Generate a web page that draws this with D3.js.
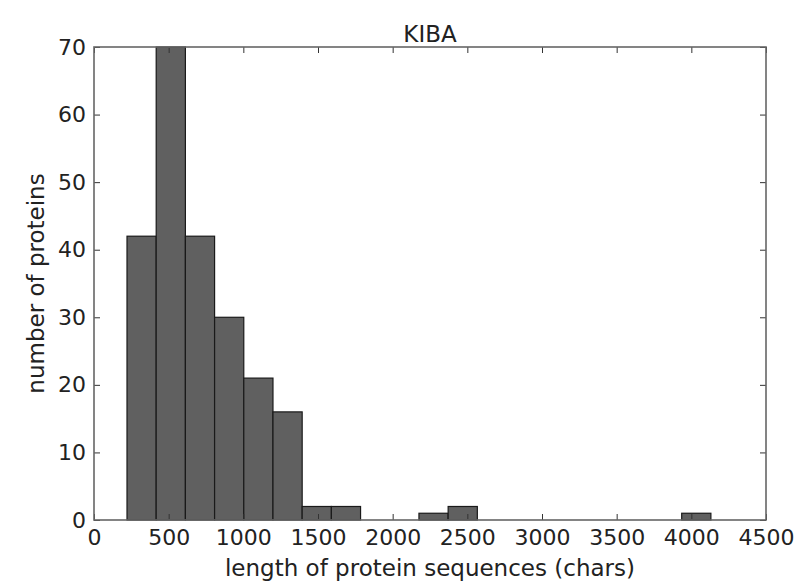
<!DOCTYPE html>
<html>
<head>
<meta charset="utf-8">
<script src="https://cdn.jsdelivr.net/npm/d3@7"></script>
<style>
  body { margin: 0; background: #fff; }
  text { font-family: "DejaVu Sans", sans-serif; fill: #222; }
</style>
</head>
<body>
<div class="chart"></div>
<script>
// histogram bins (edges) and counts
var binEdges = [221, 416.5, 612, 807.5, 1003, 1198.5, 1394, 1589.5, 1785, 1980.5, 2176,
                2371.5, 2567, 2762.5, 2958, 3153.5, 3349, 3544.5, 3740, 3935.5, 4131];
var counts = [42, 70, 42, 30, 21, 16, 2, 2, 0, 0, 1, 2, 0, 0, 0, 0, 0, 0, 0, 1];
var xTicks = [0, 500, 1000, 1500, 2000, 2500, 3000, 3500, 4000, 4500];
var yTicks = [0, 10, 20, 30, 40, 50, 60, 70];

var width = 803, height = 583;
var margin = {top: 47, right: 37, bottom: 63, left: 94};
var w = width - margin.left - margin.right;
var h = height - margin.top - margin.bottom;

var svg = d3.select(".chart").append("svg")
  .attr("width", width)
  .attr("height", height);

var g = svg.append("g")
  .attr("transform", "translate(" + margin.left + "," + margin.top + ")");

var x = d3.scaleLinear().domain([0, 4500]).range([0, w]);
var y = d3.scaleLinear().domain([0, 70]).range([h, 0]);

var bins = counts.map(function(c, i) {
  return {x0: binEdges[i], x1: binEdges[i + 1], n: c};
});

g.selectAll("rect.bar").data(bins.filter(function(d) { return d.n > 0; }))
  .enter().append("rect")
  .attr("class", "bar")
  .attr("x", function(d) { return x(d.x0); })
  .attr("y", function(d) { return y(d.n); })
  .attr("width", function(d) { return x(d.x1) - x(d.x0); })
  .attr("height", function(d) { return y(0) - y(d.n); })
  .attr("fill", "#606060")
  .attr("stroke", "#1a1a1a")
  .attr("stroke-width", 1.2);

// inward ticks on all four sides, like classic matplotlib
var tl = 6;
var fmt = d3.format("d");
g.append("g").attr("transform", "translate(0," + h + ")")
  .call(d3.axisBottom(x).tickValues(xTicks).tickFormat(fmt).tickSizeInner(-tl).tickSizeOuter(0).tickPadding(9))
  .call(function(a) { a.select(".domain").remove(); });
g.append("g")
  .call(d3.axisTop(x).tickValues(xTicks).tickSizeInner(-tl).tickSizeOuter(0).tickFormat(""))
  .call(function(a) { a.select(".domain").remove(); });
g.append("g")
  .call(d3.axisLeft(y).tickValues(yTicks).tickFormat(fmt).tickSizeInner(-tl).tickSizeOuter(0).tickPadding(8))
  .call(function(a) { a.select(".domain").remove(); });
g.append("g").attr("transform", "translate(" + w + ",0)")
  .call(d3.axisRight(y).tickValues(yTicks).tickSizeInner(-tl).tickSizeOuter(0).tickFormat(""))
  .call(function(a) { a.select(".domain").remove(); });

g.selectAll(".tick line").attr("stroke", "#333").attr("stroke-width", 1);
g.selectAll(".tick text").style("font-size", "22px").attr("fill", "#222");

g.append("rect")
  .attr("width", w).attr("height", h)
  .attr("fill", "none")
  .attr("stroke", "#666")
  .attr("stroke-width", 1.6);

svg.append("text")
  .attr("x", margin.left + w / 2).attr("y", 42)
  .attr("text-anchor", "middle")
  .style("font-size", "23px")
  .text("KIBA");

svg.append("text")
  .attr("x", margin.left + w / 2).attr("y", 576)
  .attr("text-anchor", "middle")
  .style("font-size", "23px")
  .text("length of protein sequences (chars)");

svg.append("text")
  .attr("transform", "translate(44," + (margin.top + h / 2) + ") rotate(-90)")
  .attr("text-anchor", "middle")
  .style("font-size", "23px")
  .text("number of proteins");
</script>
</body>
</html>
